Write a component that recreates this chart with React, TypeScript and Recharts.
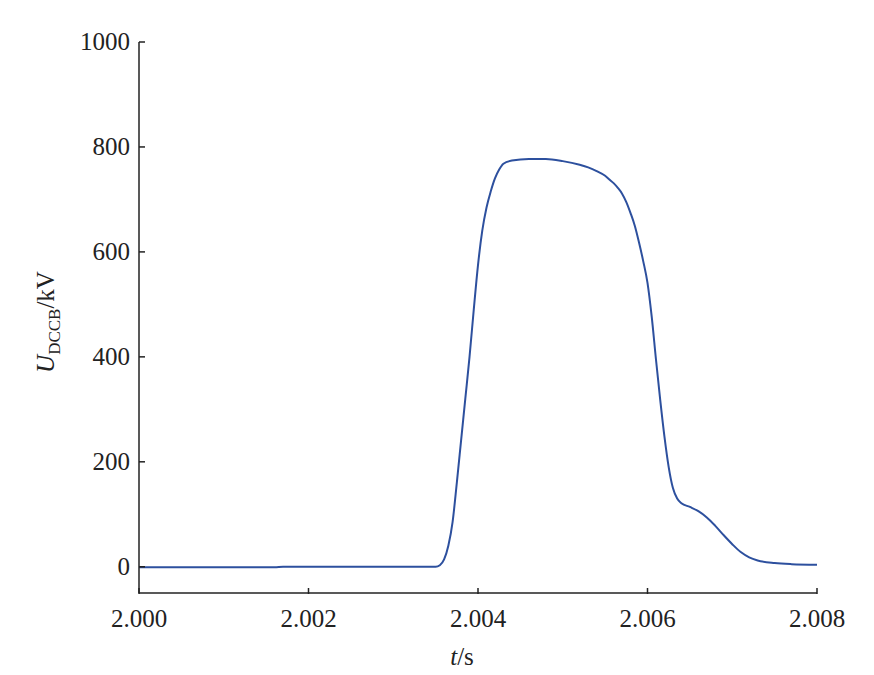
import { LineChart, Line, XAxis, YAxis } from 'recharts';

// Time samples (s) and DCCB voltage (kV)
const times = [
  2.0, 2.0016, 2.0017, 2.0035, 2.00355, 2.0036, 2.00365, 2.0037, 2.00375, 2.0038,
  2.00385, 2.0039, 2.00395, 2.004, 2.00405, 2.0041, 2.00415, 2.0042, 2.00425, 2.0043,
  2.0044, 2.0046, 2.0048, 2.005, 2.0052, 2.0053, 2.0054, 2.0055, 2.00555, 2.0056,
  2.00565, 2.0057, 2.00575, 2.0058, 2.00585, 2.0059, 2.00595, 2.006, 2.00605, 2.0061,
  2.00615, 2.0062, 2.00625, 2.0063, 2.00635, 2.0064, 2.0065, 2.0066, 2.0067, 2.0068,
  2.0069, 2.007, 2.0071, 2.0072, 2.0073, 2.0075, 2.0077, 2.008,
];
const voltage = [
  -1, -1, 0, 0, 3, 14, 40, 85, 160, 240,
  320, 400, 490, 575, 640, 684, 715, 740, 757, 768,
  774, 777, 777, 773, 766, 761, 754, 745, 738, 731,
  722, 711, 695, 674, 650, 618, 582, 541, 476, 395,
  318, 248, 190, 150, 130, 121, 114, 106, 94, 78,
  60, 43, 28, 18, 12, 7, 5, 4,
];

const xTicks = [2.0, 2.002, 2.004, 2.006, 2.008];
const yTicks = [0, 200, 400, 600, 800, 1000];

const data = times.map((t, i) => ({ t, u: voltage[i] }));

const FONT = "'Liberation Serif', 'Times New Roman', serif";
const AXIS = '#222';

// ticks point inward, so the tick mark is drawn inside the custom tick
const YTick = (props: any) => {
  const { x, y, payload } = props;
  return (
    <g>
      <line x1={x + 9} y1={y} x2={x + 15} y2={y} stroke={AXIS} strokeWidth={1.5} />
      <text x={x} y={y} dy={8} textAnchor="end" style={{ fontFamily: FONT, fontSize: 25 }} fill="#222">
        {payload.value}
      </text>
    </g>
  );
};

const XTick = (props: any) => {
  const { x, y, payload } = props;
  return (
    <g>
      <line x1={x} y1={y - 1} x2={x} y2={y - 7} stroke={AXIS} strokeWidth={1.5} />
      <text x={x} y={y} dy={32} textAnchor="middle" style={{ fontFamily: FONT, fontSize: 25 }} fill="#222">
        {Number(payload.value).toFixed(3)}
      </text>
    </g>
  );
};

const App = () => {
  return (
    <div style={{ position: 'absolute', left: 0, top: 0, background: '#fff' }}>
      <LineChart width={874} height={675} data={data} margin={{ top: 42, right: 57, left: 79, bottom: 52 }}>
        <XAxis
          dataKey="t"
          type="number"
          domain={[2.0, 2.008]}
          ticks={xTicks}
          tick={<XTick />}
          tickLine={false}
          tickSize={0}
          axisLine={{ stroke: AXIS, strokeWidth: 1.5 }}
          allowDataOverflow
          label={{
            content: () => (
              <text x={462} y={665} textAnchor="middle" style={{ fontFamily: FONT, fontSize: 25 }} fill="#222">
                <tspan fontStyle="italic">t</tspan>
                <tspan>/s</tspan>
              </text>
            ),
          }}
        />
        <YAxis
          type="number"
          domain={[-50, 1000]}
          ticks={yTicks}
          tick={<YTick />}
          tickLine={false}
          tickSize={0}
          tickMargin={9}
          axisLine={{ stroke: AXIS, strokeWidth: 1.5 }}
          allowDataOverflow
          label={{
            content: () => (
              <text
                x={0}
                y={0}
                transform="translate(54 322) rotate(-90)"
                textAnchor="middle"
                style={{ fontFamily: FONT, fontSize: 25 }}
                fill="#222"
              >
                <tspan fontStyle="italic">U</tspan>
                <tspan fontSize={17} dy={6}>DCCB</tspan>
                <tspan dy={-6}>/kV</tspan>
              </text>
            ),
          }}
        />
        <Line
          type="monotone"
          dataKey="u"
          stroke="#2d509e"
          strokeWidth={2}
          dot={false}
          isAnimationActive={false}
        />
      </LineChart>
    </div>
  );
};

export default App;
